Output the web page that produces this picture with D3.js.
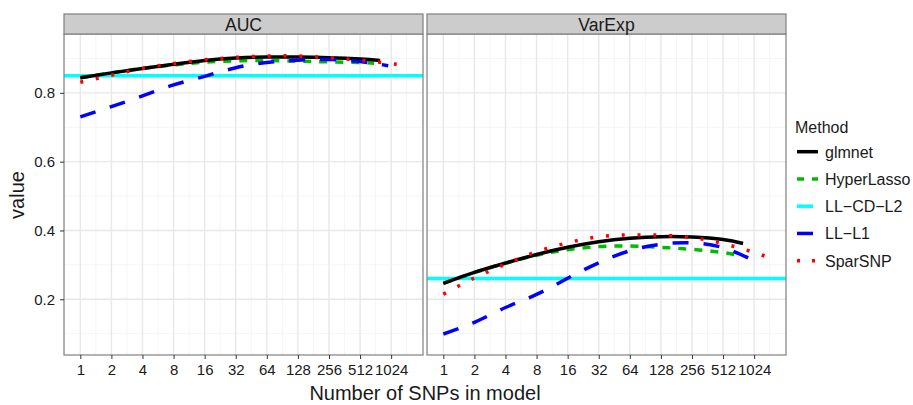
<!DOCTYPE html>
<html>
<head>
<meta charset="utf-8">
<script src="https://cdn.jsdelivr.net/npm/d3@7"></script>
<style>
  body { margin: 0; background: #fff; }
  text { font-family: "Liberation Sans", Arial, Helvetica, sans-serif; }
</style>
</head>
<body>
<svg id="chart" width="913" height="405"></svg>
<script>
// data
var panels = ["AUC", "VarExp"];
var methods = ["glmnet", "HyperLasso", "LL\u2212CD\u2212L2", "LL\u2212L1", "SparSNP"];
var snpTicks = [1, 2, 4, 8, 16, 32, 64, 128, 256, 512, 1024];
var yTicks = [0.2, 0.4, 0.6, 0.8];

var glmnetSnps = [1, 2, 4, 8, 16, 32, 64, 128, 256, 512, 800];
var glmnetAUC = [0.844, 0.858, 0.871, 0.883, 0.894, 0.901, 0.904, 0.904, 0.902, 0.898, 0.894];
var glmnetVarExp = [0.246, 0.278, 0.305, 0.330, 0.351, 0.367, 0.377, 0.382, 0.381, 0.374, 0.362];

var hyperSnps = [1, 2, 4, 8, 16, 32, 64, 128, 256, 512, 700];
var hyperAUC = [0.844, 0.858, 0.871, 0.881, 0.889, 0.893, 0.894, 0.892, 0.890, 0.888, 0.886];
var hyperVarExp = [0.246, 0.278, 0.305, 0.328, 0.344, 0.353, 0.355, 0.351, 0.345, 0.336, 0.328];

var l2AUC = 0.85;
var l2VarExp = 0.26;

var l1Snps = [1, 2, 4, 8, 16, 32, 64, 128, 256, 512, 960];
var l1AUC = [0.730, 0.760, 0.791, 0.823, 0.848, 0.873, 0.888, 0.895, 0.897, 0.891, 0.879];
var l1VarExp = [0.099, 0.133, 0.176, 0.214, 0.261, 0.306, 0.341, 0.360, 0.364, 0.350, 0.316];

var sparSnps = [1, 2, 4, 8, 16, 32, 64, 128, 256, 512, 1024, 1448];
var sparAUC = [0.831, 0.851, 0.871, 0.885, 0.896, 0.903, 0.907, 0.907, 0.902, 0.895, 0.885, 0.879];
var sparVarExp = [0.215, 0.262, 0.302, 0.338, 0.364, 0.382, 0.387, 0.386, 0.379, 0.362, 0.336, 0.320];

var colors = ["#000000", "#00bb00", "#00ffff", "#0000ff", "#ff0000"];
var dashes = [null, "8 8", null, "16 15", "3 12.8"];

function pts(xs, ys) { return xs.map(function (x, i) { return {x: x, y: ys[i]}; }); }

// drawing order: HyperLasso sits under glmnet
var lines = [
  {m: 1, AUC: pts(hyperSnps, hyperAUC), VarExp: pts(hyperSnps, hyperVarExp)},
  {m: 0, AUC: pts(glmnetSnps, glmnetAUC), VarExp: pts(glmnetSnps, glmnetVarExp)},
  {m: 3, AUC: pts(l1Snps, l1AUC), VarExp: pts(l1Snps, l1VarExp)},
  {m: 4, AUC: pts(sparSnps, sparAUC), VarExp: pts(sparSnps, sparVarExp)}
];
var hlines = {AUC: l2AUC, VarExp: l2VarExp};

var svg = d3.select("#chart");
var plotTop = 34, plotBottom = 355, lw = 3.5;
var panelX = [[64, 423], [427, 786]];

var y = d3.scaleLinear().domain([0.038, 0.971]).range([plotBottom, plotTop]);

panels.forEach(function (name, pi) {
  var x0 = panelX[pi][0], x1 = panelX[pi][1];
  var x = d3.scaleLog().base(2).domain([Math.pow(2, -0.525), Math.pow(2, 11.025)]).range([x0, x1]);
  var g = svg.append("g");

  g.append("clipPath").attr("id", "clip" + pi)
    .append("rect").attr("x", x0).attr("y", plotTop).attr("width", x1 - x0).attr("height", plotBottom - plotTop);

  // minor grid
  var minorX = snpTicks.map(function (d) { return d * Math.SQRT2; });
  minorX.unshift(Math.SQRT1_2);
  g.selectAll(".mx").data(minorX.filter(function (d) { return x(d) > x0 && x(d) < x1; }))
    .join("line").attr("x1", d => x(d)).attr("x2", d => x(d)).attr("y1", plotTop).attr("y2", plotBottom)
    .attr("stroke", "#f5f5f5").attr("stroke-width", 1);
  g.selectAll(".my").data([0.1, 0.3, 0.5, 0.7, 0.9])
    .join("line").attr("x1", x0).attr("x2", x1).attr("y1", d => y(d)).attr("y2", d => y(d))
    .attr("stroke", "#f5f5f5").attr("stroke-width", 1);
  // major grid
  g.selectAll(".gx").data(snpTicks)
    .join("line").attr("x1", d => x(d)).attr("x2", d => x(d)).attr("y1", plotTop).attr("y2", plotBottom)
    .attr("stroke", "#e8e8e8").attr("stroke-width", 1.4);
  g.selectAll(".gy").data(yTicks)
    .join("line").attr("x1", x0).attr("x2", x1).attr("y1", d => y(d)).attr("y2", d => y(d))
    .attr("stroke", "#e8e8e8").attr("stroke-width", 1.4);

  var plot = g.append("g").attr("clip-path", "url(#clip" + pi + ")");

  plot.append("line")
    .attr("x1", x0).attr("x2", x1)
    .attr("y1", y(hlines[name])).attr("y2", y(hlines[name]))
    .attr("stroke", colors[2]).attr("stroke-width", lw);

  var line = d3.line().x(d => x(d.x)).y(d => y(d.y)).curve(d3.curveNatural);
  lines.forEach(function (s) {
    plot.append("path")
      .attr("d", line(s[name]))
      .attr("fill", "none")
      .attr("stroke", colors[s.m])
      .attr("stroke-width", lw)
      .attr("stroke-dasharray", dashes[s.m]);
  });

  // panel border
  g.append("rect").attr("x", x0).attr("y", plotTop).attr("width", x1 - x0).attr("height", plotBottom - plotTop)
    .attr("fill", "none").attr("stroke", "#7f7f7f").attr("stroke-width", 1.2);

  // strip
  g.append("rect").attr("x", x0).attr("y", 14).attr("width", x1 - x0).attr("height", plotTop - 14)
    .attr("fill", "#cccccc").attr("stroke", "#7f7f7f").attr("stroke-width", 1.2);
  g.append("text").attr("x", (x0 + x1) / 2).attr("y", 31)
    .attr("text-anchor", "middle").attr("font-size", 17.6).attr("fill", "#1a1a1a").text(name);

  // x axis
  var xAxis = d3.axisBottom(x).tickValues(snpTicks).tickFormat(d3.format("d")).tickSize(4).tickPadding(5);
  var ax = g.append("g").attr("transform", "translate(0," + plotBottom + ")").call(xAxis)
    .attr("font-size", 15).attr("font-family", "Liberation Sans, Arial, sans-serif");
  ax.select(".domain").remove();
  ax.selectAll(".tick line").attr("stroke", "#333");
  ax.selectAll(".tick text").attr("fill", "#1a1a1a");

  if (pi === 0) {
    var yAxis = d3.axisLeft(y).tickValues(yTicks).tickFormat(d3.format(".1f")).tickSize(4).tickPadding(5);
    var ay = g.append("g").attr("transform", "translate(" + x0 + ",0)").call(yAxis)
      .attr("font-size", 15).attr("font-family", "Liberation Sans, Arial, sans-serif");
    ay.select(".domain").remove();
    ay.selectAll(".tick line").attr("stroke", "#333");
    ay.selectAll(".tick text").attr("fill", "#1a1a1a");
  }
});

// axis titles
svg.append("text").attr("x", 425).attr("y", 400).attr("text-anchor", "middle")
  .attr("font-size", 20).attr("fill", "#1a1a1a").text("Number of SNPs in model");
svg.append("text").attr("transform", "translate(24,195) rotate(-90)").attr("text-anchor", "middle")
  .attr("font-size", 20).attr("fill", "#1a1a1a").text("value");

// legend
var legend = svg.append("g").attr("transform", "translate(795,0)");
legend.append("text").attr("x", 0).attr("y", 133).attr("font-size", 16).attr("fill", "#1a1a1a").text("Method");
var keyLen = [21, 21, 16, 16, 21];
methods.forEach(function (m, i) {
  var ky = 151.7 + i * 27.25;
  legend.append("line").attr("x1", 2).attr("x2", 2 + keyLen[i]).attr("y1", ky).attr("y2", ky)
    .attr("stroke", colors[i]).attr("stroke-width", lw)
    .attr("stroke-dasharray", i === 1 ? "7 8" : (i === 4 ? "3 12" : null));
  legend.append("text").attr("x", 30).attr("y", ky + 6).attr("font-size", 16).attr("fill", "#1a1a1a").text(m);
});
</script>
</body>
</html>
